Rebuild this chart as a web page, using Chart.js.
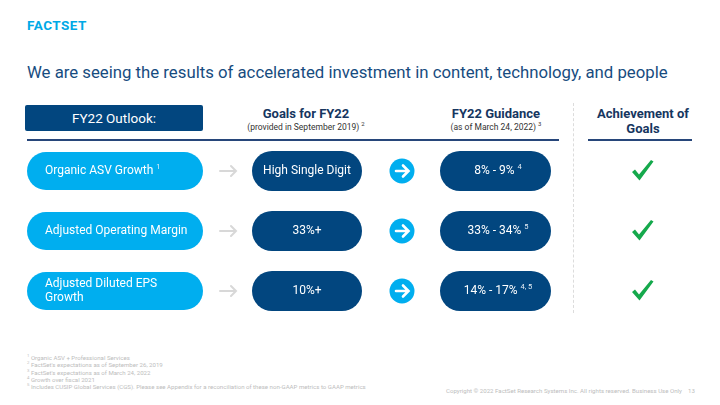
<!DOCTYPE html>
<html>
<head>
<meta charset="utf-8">
<script src="https://cdn.jsdelivr.net/npm/chart.js@4/dist/chart.umd.min.js"></script>
<style>
  body { margin: 0; width: 720px; height: 405px; background: #fff; font-family: Roboto, "Noto Sans", sans-serif; position: relative; overflow: hidden; }
  .abs { position: absolute; }
  #logo { left: 27px; top: 17px; font-size: 13.5px; font-weight: 700; color: #00a9e6; letter-spacing: 0.5px; }
  #title { left: 27px; top: 62px; font-size: 16.75px; color: #174c80; white-space: nowrap; }
  #outlook { left: 25px; top: 105px; width: 178px; height: 26px; line-height: 26px; background: #02467f; color: #fff; text-align: center; font-size: 13.5px; border-radius: 2px; }
  .head { text-align: center; color: #16365f; font-weight: 700; font-size: 13px; line-height: 15px; }
  .sub { display: block; font-weight: 400; font-size: 8.5px; color: #333; line-height: 12px; }
  sup { font-size: 70%; line-height: 0; }
  .rule { height: 2px; background: #27467a; top: 139px; }
  #dash { left: 573px; top: 103px; height: 210px; border-left: 1px dashed #dcdcdc; }
  #notes { left: 27px; top: 354px; font-size: 6.1px; color: #bdbdbd; line-height: 7.3px; }
  #copy { left: 446px; top: 387px; font-size: 6.1px; color: #bdbdbd; white-space: nowrap; }
  #wrap { left: 0; top: 141px; width: 720px; height: 180px; }
</style>
</head>
<body>
<div id="logo" class="abs">FACTSET</div>
<div id="title" class="abs">We are seeing the results of accelerated investment in content, technology, and people</div>
<div id="outlook" class="abs">FY22 Outlook:</div>
<div class="abs head" style="left:216px;top:106px;width:180px;">Goals for FY22<span class="sub">(provided in September 2019) <sup>2</sup></span></div>
<div class="abs head" style="left:406px;top:106px;width:180px;">FY22 Guidance<span class="sub">(as of March 24, 2022) <sup>3</sup></span></div>
<div class="abs head" style="left:583px;top:106px;width:120px;">Achievement of<br>Goals</div>
<div class="abs rule" style="left:27px;width:532px;"></div>
<div class="abs rule" style="left:588px;width:104px;"></div>
<div id="dash" class="abs"></div>
<div id="wrap" class="abs"><canvas id="slide"></canvas></div>
<div id="notes" class="abs">
  <sup>1</sup> Organic ASV + Professional Services<br>
  <sup>2</sup> FactSet's expectations as of September 26, 2019<br>
  <sup>3</sup> FactSet's expectations as of March 24, 2022<br>
  <sup>4</sup> Growth over fiscal 2021<br>
  <sup>5</sup> Includes CUSIP Global Services (CGS). Please see Appendix for a reconciliation of these non-GAAP metrics to GAAP metrics
</div>
<div id="copy" class="abs">Copyright © 2022 FactSet Research Systems Inc. All rights reserved. Business Use Only &nbsp;&nbsp;&nbsp;13</div>

<script>
// rows of the outlook table
var metrics = ['Organic ASV Growth', 'Adjusted Operating Margin', 'Adjusted Diluted EPS Growth'];
var metricLines = [['Organic ASV Growth'], ['Adjusted Operating Margin'], ['Adjusted Diluted EPS', 'Growth']];
var metricNotes = ['1', '', ''];
var goals = ['High Single Digit', '33%+', '10%+'];
var guidance = ['8% - 9%', '33% - 34%', '14% - 17%'];
var guidanceNotes = ['4', '5', '4, 5'];
var achieved = [true, true, true];

// column layout (x centres / widths in px)
var cols = {
  metric: { left: 27, right: 203, textX: 45 },
  grayArrow: 228,
  goal: { left: 252, right: 362 },
  circle: 402,
  guide: { left: 440, right: 551, textC: 498 },
  check: 642
};
var lightBlue = '#00aeef';
var darkBlue = '#02467f';
var green = '#15a94c';

function pill(ctx, l, r, cy, h, color) {
  ctx.beginPath();
  ctx.roundRect(l, cy - h / 2, r - l, h, h / 2);
  ctx.fillStyle = color;
  ctx.fill();
}

function textSup(ctx, x, y, txt, sup, align) {
  ctx.font = '12px Roboto';
  var w = ctx.measureText(txt).width;
  ctx.font = '7.5px Roboto';
  var ws = sup ? ctx.measureText(sup).width + 3 : 0;
  var start = align === 'center' ? x - (w + ws) / 2 : x;
  ctx.textAlign = 'left';
  ctx.textBaseline = 'middle';
  ctx.fillStyle = '#fff';
  ctx.font = '12px Roboto';
  ctx.fillText(txt, start, y);
  if (sup) {
    ctx.font = '7.5px Roboto';
    ctx.fillStyle = '#e6eef6';
    ctx.fillText(sup, start + w + 3, y - 4);
  }
}

var tablePlugin = {
  id: 'outlookTable',
  afterDatasetsDraw: function(chart) {
    var ctx = chart.ctx;
    var yScale = chart.scales.y;
    ctx.save();
    for (var i = 0; i < metrics.length; i++) {
      var cy = yScale.getPixelForValue(i);
      // metric pill
      pill(ctx, cols.metric.left, cols.metric.right, cy, 38, lightBlue);
      var lines = metricLines[i];
      for (var k = 0; k < lines.length; k++) {
        var ly = cy + (k - (lines.length - 1) / 2) * 14;
        textSup(ctx, cols.metric.textX, ly, lines[k], k === lines.length - 1 ? metricNotes[i] : '', 'left');
      }
      // gray arrow
      ctx.strokeStyle = '#d8d8d8';
      ctx.lineWidth = 2;
      ctx.lineCap = 'round';
      ctx.beginPath();
      ctx.moveTo(cols.grayArrow - 8, cy);
      ctx.lineTo(cols.grayArrow + 8, cy);
      ctx.moveTo(cols.grayArrow + 3, cy - 5);
      ctx.lineTo(cols.grayArrow + 8, cy);
      ctx.lineTo(cols.grayArrow + 3, cy + 5);
      ctx.stroke();
      // goal pill
      pill(ctx, cols.goal.left, cols.goal.right, cy, 40, darkBlue);
      textSup(ctx, (cols.goal.left + cols.goal.right) / 2, cy, goals[i], '', 'center');
      // circle arrow
      ctx.beginPath();
      ctx.arc(cols.circle, cy, 12.5, 0, Math.PI * 2);
      ctx.fillStyle = lightBlue;
      ctx.fill();
      ctx.strokeStyle = '#fff';
      ctx.lineWidth = 2.6;
      ctx.beginPath();
      ctx.moveTo(cols.circle - 6, cy);
      ctx.lineTo(cols.circle + 6, cy);
      ctx.moveTo(cols.circle + 1, cy - 5.5);
      ctx.lineTo(cols.circle + 6.5, cy);
      ctx.lineTo(cols.circle + 1, cy + 5.5);
      ctx.stroke();
      // guidance pill
      pill(ctx, cols.guide.left, cols.guide.right, cy, 40, darkBlue);
      textSup(ctx, cols.guide.textC, cy, guidance[i], guidanceNotes[i], 'center');
      // check mark
      if (achieved[i]) {
        var x = cols.check, y = cy;
        ctx.beginPath();
        ctx.moveTo(x - 10, y + 1);
        ctx.lineTo(x - 7, y - 1.5);
        ctx.lineTo(x - 3, y + 3.5);
        ctx.lineTo(x + 9, y - 11);
        ctx.lineTo(x + 11.5, y - 9.5);
        ctx.lineTo(x - 2.5, y + 9.5);
        ctx.closePath();
        ctx.fillStyle = green;
        ctx.fill();
      }
    }
    ctx.restore();
  }
};

new Chart(document.getElementById('slide'), {
  type: 'bar',
  data: {
    labels: metrics,
    datasets: [{ data: metrics.map(function() { return null; }) }]
  },
  options: {
    indexAxis: 'y',
    responsive: true,
    maintainAspectRatio: false,
    animation: false,
    events: [],
    layout: { padding: 0 },
    plugins: { legend: { display: false }, tooltip: { enabled: false } },
    scales: {
      x: { display: false },
      y: { display: false, offset: true }
    }
  },
  plugins: [tablePlugin]
});
</script>
</body>
</html>
